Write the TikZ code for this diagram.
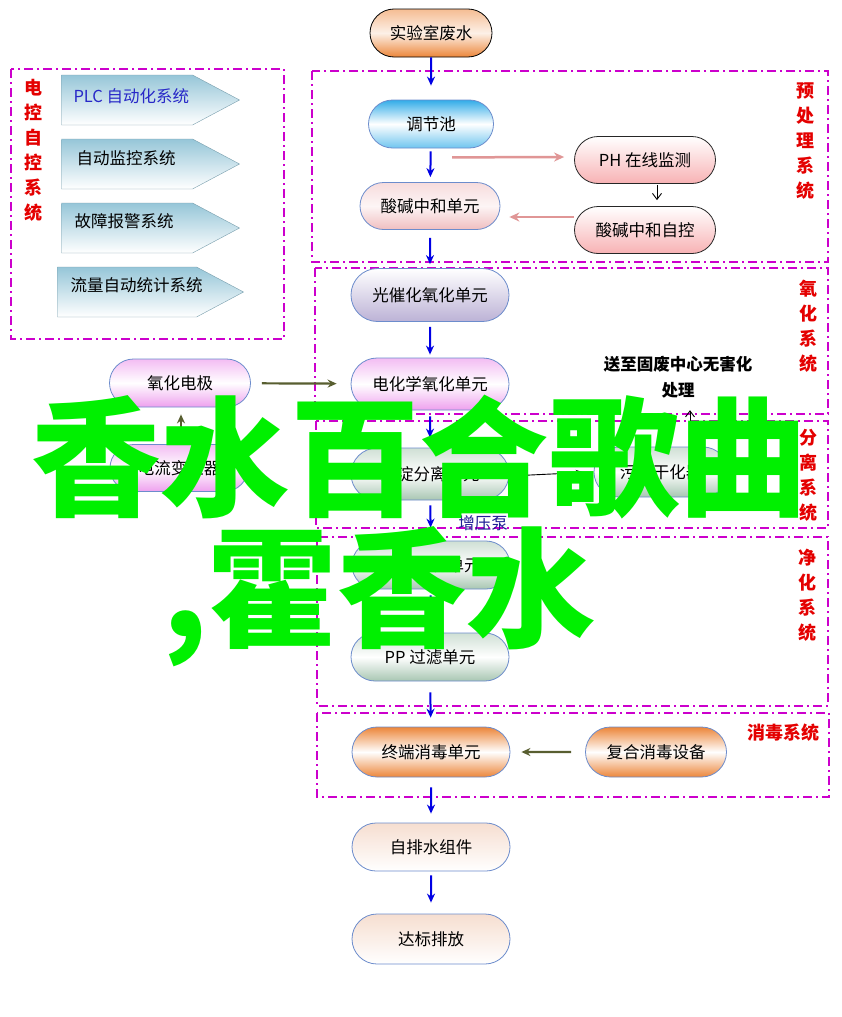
\documentclass[tikz,border=0pt]{standalone}
\usepackage{fontspec}
\setmainfont{Noto Sans CJK SC}
\usepackage{xcolor}
\usepackage{tikz}
\usetikzlibrary{shapes.misc, shapes.symbols, arrows.meta, positioning}
\definecolor{orangeA}{RGB}{236,134,58}
\definecolor{cyanA}{RGB}{50,172,232}
\definecolor{pinkA}{RGB}{240,190,192}
\definecolor{pinkB}{RGB}{248,178,180}
\definecolor{lavA}{RGB}{188,178,214}
\definecolor{magA}{RGB}{238,160,238}
\definecolor{greenA}{RGB}{168,198,178}
\definecolor{peachA}{RGB}{246,222,208}
\definecolor{sigblue}{RGB}{150,198,216}
\definecolor{edgeblue}{RGB}{108,140,204}
\definecolor{groupmag}{RGB}{204,0,204}
\definecolor{labelred}{RGB}{228,0,0}
\definecolor{feedolive}{RGB}{88,94,48}
\definecolor{flowblue}{RGB}{0,0,228}
\definecolor{pinkline}{RGB}{224,150,150}
\definecolor{pumpblue}{RGB}{30,30,150}
\definecolor{lime}{RGB}{0,240,0}
\newcommand\unitfont{\fontsize{16.5}{19}\selectfont}

\begin{document}
\begin{tikzpicture}[
    x=1pt, y=-1pt,
    unit/.style={rounded rectangle, draw=edgeblue, line width=0.8pt, minimum width=158pt, minimum height=48pt, inner sep=0pt, font=\unitfont},
    panel/.style={signal, signal to=east, signal pointer angle=56, draw=sigblue!80!black, line width=0.4pt, top color=sigblue, bottom color=white, minimum width=178pt, minimum height=50pt, inner sep=0pt},
    paneltext/.style={anchor=west, inner sep=0pt, font=\unitfont},
    groupbox/.style={draw=groupmag, line width=1.6pt, dash pattern=on 9pt off 4pt on 2pt off 4pt},
    grouplabel/.style={text=labelred, font=\bfseries\fontsize{18}{25}\selectfont, align=center, inner sep=0pt},
    flow/.style={-{Stealth[length=9pt, width=8pt]}, line width=2pt, flowblue, shorten <=6pt, shorten >=10pt},
    feed/.style={-{Stealth[length=9pt, width=8pt]}, line width=2.2pt, feedolive},
    signal line/.style={-{Stealth[length=10pt, width=9pt]}, line width=2.5pt, pinkline},
    thin/.style={-{Straight Barb[length=6pt, width=9pt]}, line width=0.9pt, black}
]
    \fill[white] (0,0) rectangle (841,1017);
    \useasboundingbox (0,0) rectangle (841,1017);

    % Groups
    \draw[groupbox] (11,69) rectangle (284,339);
    \draw[groupbox] (312,71) rectangle (828,262);
    \draw[groupbox] (315,268) rectangle (828,414);
    \draw[groupbox] (316,421) rectangle (828,528);
    \draw[groupbox] (317,537) rectangle (828,706);
    \draw[groupbox] (317,713) rectangle (829,797);

    \node[grouplabel] (ctrllabel) at (33,150) {电\\控\\自\\控\\系\\统};
    \node[grouplabel] (prelabel) at (805,141) {预\\处\\理\\系\\统};
    \node[grouplabel] (oxilabel) at (808,326) {氧\\化\\系\\统};
    \node[grouplabel] (seplabel) at (808,475) {分\\离\\系\\统};
    \node[grouplabel] (purlabel) at (807,595) {净\\化\\系\\统};
    \node[grouplabel] (dislabel) at (783,733) {消毒系统};

    % Control panels
    \node[panel] (plc) at (127,100) {};
    \node[panel] (monitor) at (127,164) {};
    \node[panel] (alarm) at (127,228) {};
    \node[panel, minimum width=186pt] (meter) at (127,292) {};
    \node[paneltext, text={rgb,255:red,40;green,40;blue,200}] (plctext) at ([xshift=12pt, yshift=4pt]plc.west) {PLC 自动化系统};
    \node[paneltext] (monitortext) at ([xshift=15pt, yshift=6pt]monitor.west) {自动监控系统};
    \node[paneltext] (alarmtext) at ([xshift=13pt, yshift=7pt]alarm.west) {故障报警系统};
    \node[paneltext] (metertext) at ([xshift=13pt, yshift=7pt]meter.west) {流量自动统计系统};

    % Main line
    \node[unit, draw=black, minimum width=122pt, top color=orangeA!55, bottom color=orangeA, middle color=orangeA!12] (src) at (431,33) {实验室废水};
    \node[unit, minimum width=125pt, top color=cyanA, bottom color=cyanA!70, middle color=white] (tank) at (431,124) {调节池};
    \node[unit, minimum width=140pt, minimum height=47pt, top color=pinkA!55, bottom color=pinkA, middle color=pinkA!15] (neut) at (430,206) {酸碱中和单元};
    \node[unit, minimum height=53pt, top color=white, bottom color=lavA] (photo) at (430,295) {光催化氧化单元};
    \node[unit, minimum height=52pt, top color=magA!70, bottom color=magA, middle color=white] (echem) at (430,384) {电化学氧化单元};
    \node[unit, minimum height=52pt, top color=greenA!55, bottom color=greenA, middle color=white] (settle) at (430,474) {沉淀分离单元};
    \node[unit, top color=greenA!55, bottom color=greenA, middle color=white] (sand) at (431,565) {精密过滤单元};
    \node[unit, top color=greenA!55, bottom color=greenA, middle color=white] (ppf) at (430,657) {PP 过滤单元};
    \node[unit, minimum height=50pt, top color=orangeA, bottom color=orangeA, middle color=white] (term) at (431,752) {终端消毒单元};
    \node[unit, top color=peachA, bottom color=white] (drain) at (431,847) {自排水组件};
    \node[unit, minimum height=50pt, top color=peachA, bottom color=white] (outlet) at (431,939) {达标排放};

    % Side units
    \node[unit, draw=black!85, minimum width=141pt, minimum height=47pt, top color=white, bottom color=pinkB] (phmon) at (645,160) {PH 在线监测};
    \node[unit, draw=black!85, minimum width=141pt, minimum height=47pt, top color=white, bottom color=pinkB] (phctl) at (645,230) {酸碱中和自控};
    \node[unit, minimum width=141pt, top color=magA!70, bottom color=magA, middle color=white] (electrode) at (180,383) {氧化电极};
    \node[unit, minimum width=138pt, minimum height=47pt, top color=magA!70, bottom color=magA, middle color=white] (transf) at (179,468) {电流变压器};
    \node[unit, minimum width=134pt, minimum height=50pt, top color=greenA!55, bottom color=greenA, middle color=white] (sludge) at (661,472) {污泥干化器};
    \node[unit, minimum width=141pt, minimum height=50pt, top color=orangeA, bottom color=orangeA, middle color=white] (combo) at (656,752) {复合消毒设备};
    \node[font=\bfseries\fontsize{16.5}{26}\selectfont, align=center, inner sep=1pt] (waste) at (678,377) {送至固废中心无害化\\处理};
    \node[font=\unitfont, text=pumpblue, inner sep=0pt] (pump) at (483,523) {增压泵};

    % Arrows
    \draw[flow, shorten <=0pt, shorten >=14pt] (src) -- (tank);
    \draw[flow, shorten <=3pt, shorten >=5pt] (tank) -- (neut);
    \draw[flow, shorten <=8pt, shorten >=4pt] (neut) -- (photo);
    \draw[flow, shorten <=5pt, shorten >=3pt] (photo) -- (echem);
    \draw[flow] (echem) -- (settle);
    \draw[flow, shorten <=5pt, shorten >=13pt] (settle) -- (sand);
    \draw[flow] (sand) -- (ppf);
    \draw[flow, shorten <=11pt, shorten >=9pt] (ppf) -- (term);
    \draw[flow, shorten <=10pt, shorten >=9pt] (term) -- (drain);
    \draw[flow, shorten <=4pt, shorten >=11pt] (drain) -- (outlet);

    \draw[signal line] ([xshift=21pt, yshift=-9pt]tank.south) -- ([xshift=-10pt, yshift=3pt]phmon.west);
    \draw[thin, shorten <=1pt, shorten >=6pt] ([xshift=12pt]phmon.south) -- ([xshift=12pt]phctl.north);
    \draw[signal line] ([yshift=13pt]phctl.west) -- ([xshift=9pt, yshift=-11pt]neut.east);

    \draw[feed, shorten <=15pt, shorten >=7pt] ([xshift=2pt]transf.north) -- ([xshift=1pt]electrode.south);
    \draw[feed, shorten <=11pt, shorten >=14pt] (electrode) -- (echem);
    \draw[feed, shorten <=14pt, shorten >=11pt] (combo) -- (term);

    \draw[-{Stealth[length=8pt, width=6pt]}, line width=0.9pt, shorten >=10pt] ([yshift=-2pt]settle.east) -- (sludge.west);
    \draw[thin, shorten >=11pt] ([xshift=29pt]sludge.north) -- ([xshift=29pt]sludge.north |- waste.south);

    % Overlay
    \node[anchor=base west, inner sep=0pt, text=lime, font=\bfseries\fontsize{129.5}{130}\selectfont] (title) at (31,506) {香水百合歌曲};
    \node[anchor=base west, inner sep=0pt, text=lime, font=\bfseries\fontsize{129.5}{130}\selectfont] (subtitle) at (162,637) {,霍香水};
\end{tikzpicture}
\end{document}
